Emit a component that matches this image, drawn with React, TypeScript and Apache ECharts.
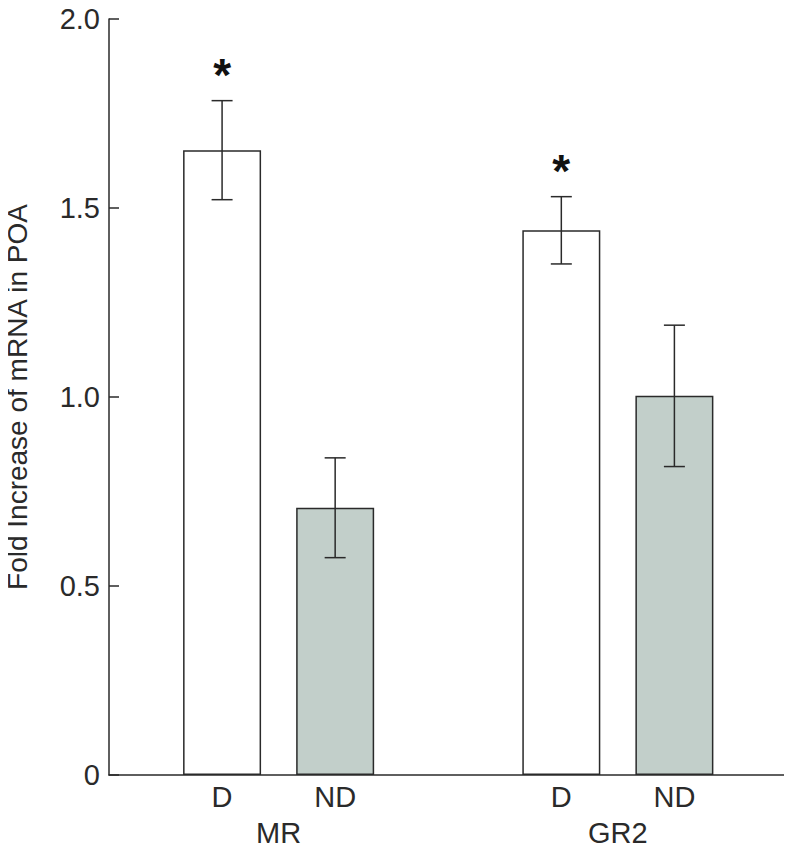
import React, { useEffect, useRef } from "react";
import * as echarts from "echarts";

// Bar positions on the x scale (gap at 3 separates the two receptor groups)
const positions = [1, 2, 4, 5];
const conditionLabels = ["D", "ND", "D", "ND"];
const groupPositions = [1.5, 4.5];
const groupLabels = ["MR", "GR2"];
const means = [1.653, 0.707, 1.441, 1.003];
const errors = [0.131, 0.132, 0.089, 0.187];
const significant = [true, false, true, false];
const barFills = ["#ffffff", "#c2cfca", "#ffffff", "#c2cfca"];
const yTicks = [0, 0.5, 1.0, 1.5, 2.0];

const FONT = "Liberation Sans, Arial, sans-serif";
const INK = "#2a2a2a";

export default function App() {
  const ref = useRef<HTMLDivElement>(null);

  useEffect(() => {
    if (!ref.current) return;
    const chart = echarts.init(ref.current, undefined, { renderer: "svg" });

    const barData = positions.map((p, i) => ({
      value: [p, means[i]],
      itemStyle: { color: barFills[i], borderColor: INK, borderWidth: 1.5 },
    }));
    const errData = positions.map((p, i) => [p, means[i] - errors[i], means[i] + errors[i], significant[i] ? 1 : 0]);

    const xMax = 6.04;

    chart.setOption({
      animation: false,
      grid: { left: 109, right: 0, top: 19, bottom: 81, containLabel: false, outerBoundsMode: "none" },
      xAxis: [
        {
          type: "value",
          min: 0,
          max: xMax,
          interval: 1,
          axisLine: { show: true, lineStyle: { color: INK, width: 1.5 } },
          axisTick: { show: false },
          splitLine: { show: false },
          axisLabel: {
            show: true,
            margin: 7,
            fontSize: 29,
            fontFamily: FONT,
            color: INK,
            formatter: (v: number) => {
              const idx = positions.findIndex((p) => Math.abs(p - v) < 1e-6);
              return idx >= 0 ? conditionLabels[idx] : "";
            },
          },
        },
        {
          type: "value",
          position: "bottom",
          min: 0,
          max: xMax,
          interval: 1.5,
          axisLine: { show: false },
          axisTick: { show: false },
          splitLine: { show: false },
          axisLabel: {
            show: true,
            margin: 43,
            fontSize: 29,
            fontFamily: FONT,
            color: INK,
            formatter: (v: number) => {
              const idx = groupPositions.findIndex((p) => Math.abs(p - v) < 1e-6);
              return idx >= 0 ? groupLabels[idx] : "";
            },
          },
        },
      ],
      yAxis: {
        type: "value",
        min: 0,
        max: 2,
        interval: 0.5,
        name: "Fold Increase of mRNA in POA",
        nameLocation: "middle",
        nameGap: 78,
        nameTextStyle: { fontSize: 28, fontFamily: FONT, color: INK },
        axisLine: { show: true, lineStyle: { color: INK, width: 1.5 } },
        axisTick: { show: true, inside: true, length: 10, lineStyle: { color: INK, width: 1.5 } },
        splitLine: { show: false },
        axisLabel: {
          margin: 9,
          fontSize: 29,
          fontFamily: FONT,
          color: INK,
          formatter: (v: number) => {
            const t = yTicks.find((y) => Math.abs(y - v) < 1e-6);
            if (t === undefined) return "";
            return t === 0 ? "0" : t.toFixed(1);
          },
        },
      },
      series: [
        {
          type: "bar",
          xAxisIndex: 0,
          data: barData,
          barWidth: 78,
          z: 2,
        },
        {
          type: "custom",
          xAxisIndex: 0,
          z: 5,
          data: errData,
          renderItem: (params: any, api: any) => {
            const x = api.value(0);
            const lo = api.coord([x, api.value(1)]);
            const hi = api.coord([x, api.value(2)]);
            const sig = api.value(3);
            const half = 10.5;
            const style = { stroke: INK, lineWidth: 1.5 };
            const children: any[] = [
              { type: "line", shape: { x1: hi[0], y1: hi[1], x2: lo[0], y2: lo[1] }, style },
              { type: "line", shape: { x1: hi[0] - half, y1: hi[1], x2: hi[0] + half, y2: hi[1] }, style },
              { type: "line", shape: { x1: lo[0] - half, y1: lo[1], x2: lo[0] + half, y2: lo[1] }, style },
            ];
            if (sig) {
              children.push({
                type: "text",
                x: hi[0],
                y: hi[1] - 26,
                style: {
                  text: "*",
                  fontSize: 46,
                  fontWeight: "bold",
                  fontFamily: FONT,
                  fill: "#111",
                  align: "center",
                  verticalAlign: "middle",
                },
              });
            }
            return { type: "group", children };
          },
        },
      ],
    });

    return () => chart.dispose();
  }, []);

  return <div ref={ref} style={{ width: 792, height: 856, margin: -8 }} />;
}
